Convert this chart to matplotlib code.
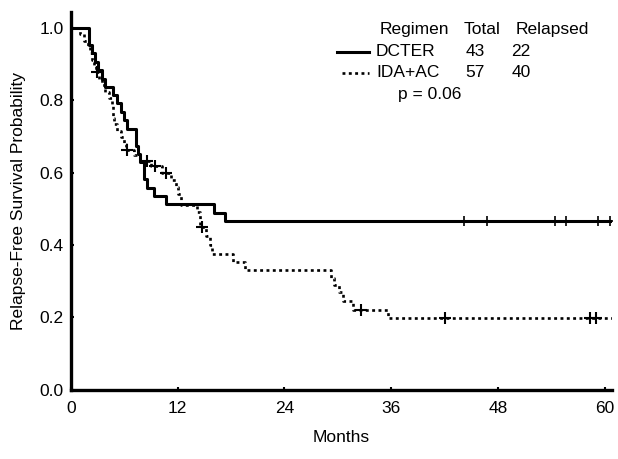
import matplotlib.pyplot as plt

plt.rcParams['font.family'] = ['Liberation Sans', 'DejaVu Sans']

# Kaplan-Meier steps (month, survival after the step)
dcter_t = [0, 2.1, 2.4, 2.7, 3.1, 3.5, 3.9, 4.8, 5.2, 5.6, 6.0, 6.3, 7.3, 7.6,
           7.8, 8.2, 8.6, 9.3, 10.7, 16.1, 17.3, 61]
dcter_s = [1.0, 0.953, 0.930, 0.907, 0.884, 0.860, 0.837, 0.814, 0.791, 0.767,
           0.744, 0.721, 0.674, 0.651, 0.628, 0.581, 0.558, 0.535, 0.512, 0.488,
           0.465, 0.465]
dcter_cens_t = [44.2, 46.8, 54.4, 55.7, 59.2, 60.6]
dcter_cens_s = [0.465, 0.465, 0.465, 0.465, 0.465, 0.465]

ida_t = [0, 1.0, 1.5, 1.9, 2.2, 2.4, 2.6, 2.8, 3.2, 3.5, 3.9, 4.3, 4.6, 4.7,
         4.8, 4.9, 5.2, 5.6, 6.0, 6.2, 7.1, 7.8, 9.0, 10.2, 11.3, 11.8, 12.1,
         12.4, 14.2, 14.5, 15.2, 15.7, 15.9, 18.2, 19.6, 29.2, 29.6, 30.1,
         30.6, 31.7, 35.6, 61]
ida_s = [1.0, 0.982, 0.965, 0.947, 0.930, 0.912, 0.895, 0.877, 0.859, 0.841,
         0.823, 0.805, 0.787, 0.769, 0.751, 0.733, 0.715, 0.697, 0.680, 0.662,
         0.648, 0.633, 0.618, 0.600, 0.580, 0.560, 0.540, 0.510, 0.490, 0.450,
         0.425, 0.400, 0.375, 0.352, 0.330, 0.310, 0.290, 0.270, 0.245, 0.220,
         0.197, 0.197]
ida_cens_t = [2.9, 6.3, 8.6, 9.5, 10.7, 14.7, 32.6, 42.0, 58.3, 59.0]
ida_cens_s = [0.877, 0.662, 0.633, 0.618, 0.600, 0.450, 0.220, 0.197, 0.197, 0.197]

fig = plt.figure(figsize=(6.18, 4.59), dpi=100)
ax = fig.add_axes([0.1145, 0.151, 0.8755, 0.823])

ax.step(dcter_t, dcter_s, where='post', color='black', lw=2.2)
ax.step(ida_t, ida_s, where='post', color='black', lw=1.9, linestyle=(0, (1.1, 1.3)))
ax.plot(dcter_cens_t, dcter_cens_s, '+', color='black', ms=7, mew=1.2)
ax.plot(ida_cens_t, ida_cens_s, '+', color='black', ms=8, mew=1.5)

ax.set_xlim(0, 60.8)
ax.set_ylim(0, 1.044)
ax.set_xticks([0, 12, 24, 36, 48, 60])
ax.set_yticks([0.0, 0.2, 0.4, 0.6, 0.8, 1.0])
ax.set_yticklabels(['0.0', '0.2', '0.4', '0.6', '0.8', '1.0'])
ax.tick_params(direction='in', length=2, width=1.5, labelsize=12.5)
ax.tick_params(axis='x', pad=8)
ax.tick_params(axis='y', pad=5)

for s in ['top', 'right']:
    ax.spines[s].set_visible(False)
for s in ['left', 'bottom']:
    ax.spines[s].set_linewidth(2.4)

ax.set_xlabel('Months', fontsize=12.5, labelpad=10)
ax.set_ylabel('Relapse-Free Survival Probability', fontsize=12.5, labelpad=10)

# legend table
fs = 12.5
ax.text(34.7, 0.995, 'Regimen', fontsize=fs, va='center')
ax.text(44.1, 0.995, 'Total', fontsize=fs, va='center')
ax.text(50.0, 0.995, 'Relapsed', fontsize=fs, va='center')
ax.plot([29.9, 33.5], [0.934, 0.934], color='black', lw=2.2)
ax.plot([30.5, 33.5], [0.876, 0.876], color='black', lw=1.9, linestyle=(0, (1.1, 1.3)))
ax.text(34.3, 0.934, 'DCTER', fontsize=fs, va='center')
ax.text(34.3, 0.876, 'IDA+AC', fontsize=fs, va='center')
ax.text(45.4, 0.934, '43', fontsize=fs, va='center', ha='center')
ax.text(45.4, 0.876, '57', fontsize=fs, va='center', ha='center')
ax.text(50.6, 0.934, '22', fontsize=fs, va='center', ha='center')
ax.text(50.6, 0.876, '40', fontsize=fs, va='center', ha='center')
ax.text(40.3, 0.815, 'p = 0.06', fontsize=fs, va='center', ha='center')

fig.savefig('out.png', dpi=100)
